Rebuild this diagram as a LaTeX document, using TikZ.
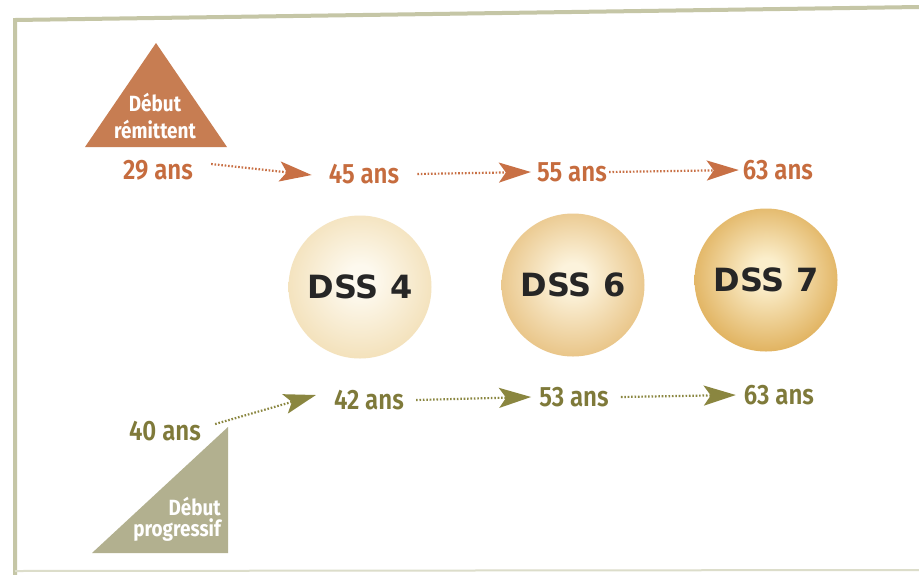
\documentclass[tikz,border=0pt]{standalone}
\usepackage{fontspec}
\setmainfont{Fira Sans}
\newfontfamily\labfont[FakeStretch=0.86]{Fira Sans SemiBold}
\newfontfamily\trifont[FakeStretch=0.86]{Fira Sans}
\newfontfamily\dssfont{DejaVu Sans}
\usetikzlibrary{arrows.meta}
\definecolor{framec}{HTML}{C5C6A6}
\definecolor{orT}{HTML}{C66C3E}
\definecolor{orTri}{HTML}{C77D52}
\definecolor{orArr}{HTML}{C87045}
\definecolor{olT}{HTML}{7F7A3A}
\definecolor{olTri}{HTML}{B2B08F}
\definecolor{olArr}{HTML}{8A8640}
\definecolor{dsstext}{HTML}{262626}
\definecolor{aIn}{HTML}{FDF9EE}
\definecolor{aOut}{HTML}{EDD29A}
\definecolor{bIn}{HTML}{FCF3DC}
\definecolor{bOut}{HTML}{DFAD5C}
\definecolor{cIn}{HTML}{FBEECB}
\definecolor{cOut}{HTML}{D69A33}
\pgfdeclareradialshading{ballA}{\pgfpoint{0bp}{3bp}}{color(0bp)=(aIn); color(5bp)=(aIn); color(28bp)=(aIn!35!aOut); color(50bp)=(aOut)}
\pgfdeclareradialshading{ballB}{\pgfpoint{0bp}{3bp}}{color(0bp)=(bIn); color(5bp)=(bIn); color(28bp)=(bIn!30!bOut); color(50bp)=(bOut)}
\pgfdeclareradialshading{ballC}{\pgfpoint{0bp}{3bp}}{color(0bp)=(cIn); color(5bp)=(cIn); color(28bp)=(cIn!25!cOut); color(50bp)=(cOut)}
\begin{document}
\begin{tikzpicture}[x=1pt,y=-1pt,
  agetext/.style={font=\labfont\fontsize{28}{28}\selectfont, inner sep=0pt},
  ortext/.style={agetext, text=orT},
  oltext/.style={agetext, text=olT},
  tritext/.style={font=\trifont\bfseries\fontsize{22}{22}\selectfont, text=white, inner sep=0pt},
  dotarrow/.style={line width=2.2pt, dash pattern=on 1.6pt off 1.8pt,
    -{Stealth[length=32pt,width=20pt,inset=7pt]}},
  ball/.style={circle, minimum size=143pt, inner sep=0pt,
    font=\dssfont\bfseries\fontsize{32}{32}\selectfont, text=dsstext}
]
\useasboundingbox (0,0) rectangle (919,574);
\fill[white] (0,0) rectangle (919,574);
% frame
\draw[framec, line width=4pt] (919,7) -- (15,20) -- (15,576);
\draw[framec!60, line width=2pt] (15,571) -- (919,570);

% triangles
\fill[orTri] (156,43) -- (227,147) -- (85,147) -- cycle;
\fill[olTri] (228,427) -- (228,553) -- (92,553) -- cycle;

\node[tritext] (rem1) at (155,102) {Début};
\node[tritext] (rem2) at (155,129) {rémittent};
\node[tritext, anchor=east] (pro1) at (221,506) {Début};
\node[tritext, anchor=east] (pro2) at (221,530) {progressif};

% balls
\node[ball, shading=ballA] (d4) at (360,287) {DSS 4};
\node[ball, shading=ballB] (d6) at (573,285) {DSS 6};
\node[ball, shading=ballC] (d7) at (766,280) {DSS 7};

% top row
\node[ortext] (t29) at (158,170) {29 ans};
\node[ortext] (t45) at (364,174) {45 ans};
\node[ortext] (t55) at (572,172) {55 ans};
\node[ortext] (t63a) at (778,170) {63 ans};

% bottom row
\node[oltext] (t40) at (165,431) {40 ans};
\node[oltext] (t42) at (369,400) {42 ans};
\node[oltext] (t53) at (574,397) {53 ans};
\node[oltext] (t63b) at (779,395) {63 ans};

% arrows
\draw[dotarrow, orArr] ([xshift=18pt,yshift=6pt]t29.east) -- ([xshift=-17pt,yshift=-1pt]t45.west);
\draw[dotarrow, orArr] ([xshift=18pt]t45.east) -- ([xshift=-6pt]t55.west);
\draw[dotarrow, orArr] ([xshift=2pt]t55.east) -- ([xshift=-4pt]t63a.west);

\draw[dotarrow, olArr] ([xshift=14pt,yshift=7pt]t40.east) -- ([xshift=-18pt,yshift=5pt]t42.west);
\draw[dotarrow, olArr] ([xshift=12pt]t42.east) -- ([xshift=-8pt]t53.west);
\draw[dotarrow, olArr] ([xshift=12pt]t53.east) -- ([xshift=-8pt]t63b.west);
\end{tikzpicture}
\end{document}
